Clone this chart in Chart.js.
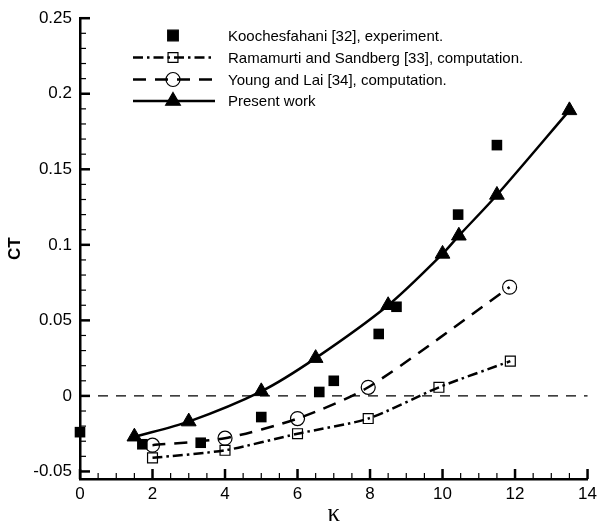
<!DOCTYPE html>
<html>
<head>
<meta charset="utf-8">
<script src="https://cdn.jsdelivr.net/npm/chart.js@4/dist/chart.umd.min.js"></script>
<style>
  html, body { margin: 0; padding: 0; background: #fff; }
  #wrap { width: 602px; height: 530px; }
</style>
</head>
<body>
<div id="wrap"><canvas id="ctChart" width="602" height="530"></canvas></div>
<script>
// thrust coefficient vs reduced frequency
const koochX = [0, 1.72, 3.33, 5.0, 6.6, 7.0, 8.24, 8.73, 10.43, 11.5];
const koochY = [-0.024, -0.032, -0.031, -0.014, 0.0026, 0.010, 0.041, 0.059, 0.120, 0.166];

const ramaX = [2.0, 4.0, 6.0, 7.95, 9.9, 11.87];
const ramaY = [-0.041, -0.036, -0.025, -0.015, 0.0057, 0.023];

const youngX = [2.0, 4.0, 6.0, 7.95, 11.85];
const youngY = [-0.0326, -0.028, -0.015, 0.0057, 0.072];

const presentX = [1.5, 3.0, 5.0, 6.5, 8.5, 10.0, 10.45, 11.5, 13.5];
const presentY = [-0.027, -0.017, 0.003, 0.025, 0.060, 0.094, 0.106, 0.133, 0.189];

const xTicks = [0, 2, 4, 6, 8, 10, 12, 14];
const yTicks = [-0.05, 0, 0.05, 0.1, 0.15, 0.2, 0.25];
const yTickLabels = ['-0.05', '0', '0.05', '0.1', '0.15', '0.2', '0.25'];

const legendLabels = [
  'Koochesfahani [32], experiment.',
  'Ramamurti and Sandberg [33], computation.',
  'Young and Lai [34], computation.',
  'Present work'
];

const pts = (xs, ys) => xs.map((x, i) => ({x: x, y: ys[i]}));

const SANS = '"Liberation Sans", Arial, Helvetica, sans-serif';
const DASH_DOT = [10, 4, 2.5, 4];
const DASHED = [13, 9];
const LINE_W = 2.5;

// inward tick marks on both axes
const innerTicks = {
  id: 'innerTicks',
  afterDraw(chart) {
    const {ctx, scales: {x, y}, chartArea} = chart;
    ctx.save();
    ctx.strokeStyle = '#000';
    for (let i = -5; i <= 25; i++) {
      const major = i % 5 === 0;
      const py = y.getPixelForValue(i / 100);
      ctx.lineWidth = major ? 2.5 : 1.2;
      ctx.beginPath();
      ctx.moveTo(chartArea.left, py);
      ctx.lineTo(chartArea.left + (major ? 10 : 6), py);
      ctx.stroke();
    }
    for (let i = 0; i <= 28; i++) {
      const major = i % 4 === 0;
      const px = x.getPixelForValue(i / 2);
      ctx.lineWidth = major ? 2.5 : 1.2;
      ctx.beginPath();
      ctx.moveTo(px, chartArea.bottom);
      ctx.lineTo(px, chartArea.bottom - (major ? 10 : 6));
      ctx.stroke();
    }
    ctx.restore();
  }
};

// legend with a line sample and marker per entry
const sampleLegend = {
  id: 'sampleLegend',
  afterDraw(chart) {
    const ctx = chart.ctx;
    const styles = [
      {dash: null, point: 'rect', r: 7.5, fill: '#000'},
      {dash: DASH_DOT, point: 'rect', r: 7, fill: 'rgba(0,0,0,0)'},
      {dash: DASHED, point: 'circle', r: 7, fill: 'rgba(0,0,0,0)'},
      {dash: [], point: 'triangle', r: 8.5, fill: '#000'}
    ];
    const rows = [35.5, 57.5, 79.5, 101];
    ctx.save();
    styles.forEach((s, i) => {
      const yy = rows[i];
      if (s.dash) {
        ctx.strokeStyle = '#000';
        ctx.lineWidth = LINE_W;
        ctx.setLineDash(s.dash);
        ctx.beginPath();
        ctx.moveTo(133, yy);
        ctx.lineTo(215, yy);
        ctx.stroke();
        ctx.setLineDash([]);
      }
      ctx.fillStyle = s.fill;
      ctx.strokeStyle = '#000';
      ctx.lineWidth = 1.2;
      Chart.helpers.drawPoint(ctx, {pointStyle: s.point, radius: s.r, rotation: 0, borderWidth: 1.2}, 173, yy);
      ctx.fillStyle = '#000';
      ctx.font = '15px ' + SANS;
      ctx.textAlign = 'left';
      ctx.textBaseline = 'middle';
      ctx.fillText(legendLabels[i], 228, yy + 1);
    });
    ctx.restore();
  }
};

new Chart(document.getElementById('ctChart').getContext('2d'), {
  type: 'scatter',
  data: {
    datasets: [
      {
        type: 'line',
        data: [{x: 0, y: 0}, {x: 14, y: 0}],
        borderColor: '#000',
        borderWidth: 1.4,
        borderDash: [10, 8],
        pointRadius: 0
      },
      {
        type: 'line',
        label: legendLabels[1],
        data: pts(ramaX, ramaY),
        borderColor: '#000',
        borderWidth: LINE_W,
        borderDash: DASH_DOT,
        tension: 0.25,
        pointStyle: 'rect',
        pointRadius: 7,
        pointBorderWidth: 1.2,
        pointBorderColor: '#000',
        pointBackgroundColor: 'rgba(0,0,0,0)'
      },
      {
        type: 'line',
        label: legendLabels[2],
        data: pts(youngX, youngY),
        borderColor: '#000',
        borderWidth: LINE_W,
        borderDash: DASHED,
        tension: 0.25,
        pointStyle: 'circle',
        pointRadius: 7,
        pointBorderWidth: 1.2,
        pointBorderColor: '#000',
        pointBackgroundColor: 'rgba(0,0,0,0)'
      },
      {
        type: 'line',
        label: legendLabels[3],
        data: pts(presentX, presentY),
        borderColor: '#000',
        borderWidth: LINE_W,
        tension: 0.3,
        pointStyle: 'triangle',
        pointRadius: 8.5,
        pointBorderWidth: 1,
        pointBorderColor: '#000',
        pointBackgroundColor: '#000'
      },
      {
        label: legendLabels[0],
        data: pts(koochX, koochY),
        showLine: false,
        pointStyle: 'rect',
        pointRadius: 7.5,
        pointBorderWidth: 0,
        pointBackgroundColor: '#000'
      }
    ]
  },
  options: {
    responsive: false,
    animation: false,
    clip: false,
    layout: {padding: {top: 13, right: 9, left: 0, bottom: 0}},
    plugins: {legend: {display: false}, tooltip: {enabled: false}},
    scales: {
      x: {
        type: 'linear',
        min: 0, max: 14,
        afterBuildTicks: s => { s.ticks = xTicks.map(v => ({value: v})); },
        afterFit: s => { s.height = 51; },
        grid: {display: false, drawTicks: false},
        border: {display: true, color: '#000', width: 2.5},
        ticks: {color: '#000', padding: 5, font: {family: SANS, size: 17}},
        title: {
          display: true, text: 'κ', color: '#000',
          font: {family: '"Liberation Serif", "Times New Roman", serif', size: 25},
          padding: {top: 0, bottom: 1}
        }
      },
      y: {
        type: 'linear',
        min: -0.055, max: 0.25,
        afterBuildTicks: s => { s.ticks = yTicks.map(v => ({value: v})); },
        afterFit: s => { s.width = 80; },
        grid: {display: false, drawTicks: false},
        border: {display: true, color: '#000', width: 2.5},
        ticks: {
          color: '#000', padding: 8, font: {family: SANS, size: 17},
          callback: (v, i) => yTickLabels[i]
        },
        title: {
          display: true, text: 'CT', color: '#000',
          font: {family: SANS, size: 17, weight: 'bold'},
          padding: {top: 5, bottom: 0}
        }
      }
    }
  },
  plugins: [innerTicks, sampleLegend]
});
</script>
</body>
</html>
